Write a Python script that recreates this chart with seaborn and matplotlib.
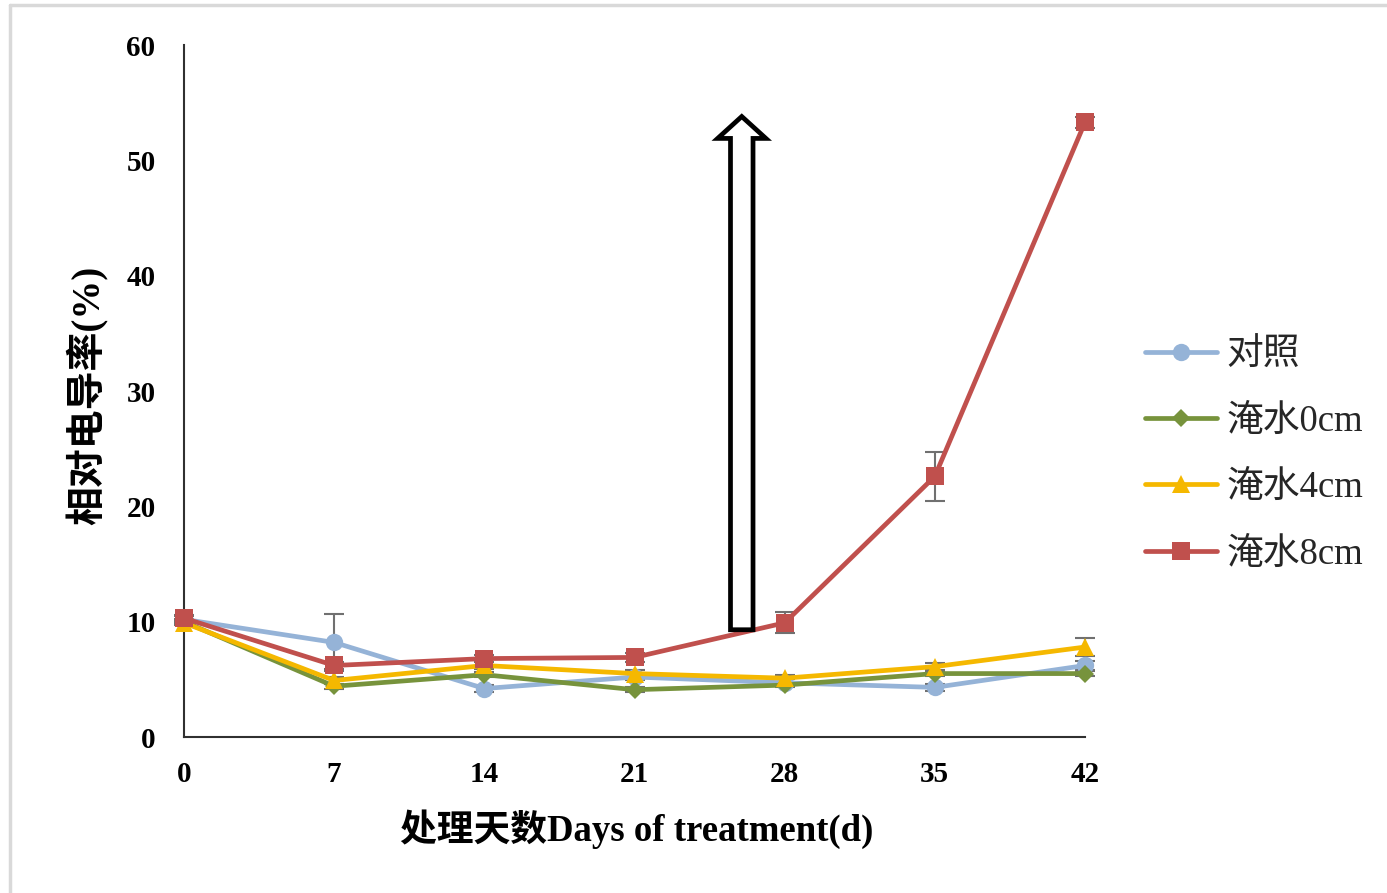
import matplotlib
matplotlib.use("Agg")
import matplotlib.pyplot as plt
import seaborn as sns
import pandas as pd
from matplotlib.patches import FancyArrow
from matplotlib.lines import Line2D

sns.set_theme(style="white")
plt.rcParams['font.family'] = ['Liberation Serif', 'Noto Sans CJK SC', 'DejaVu Sans']

days = [0, 7, 14, 21, 28, 35, 42]
series_names = ["对照", "淹水0cm", "淹水4cm", "淹水8cm"]
control = [10.2, 8.2, 4.2, 5.2, 4.7, 4.3, 6.2]
flood0 = [10.0, 4.4, 5.4, 4.1, 4.5, 5.5, 5.5]
flood4 = [9.9, 4.9, 6.2, 5.5, 5.1, 6.1, 7.8]
flood8 = [10.3, 6.2, 6.8, 6.9, 9.9, 22.6, 53.3]
control_err = [0.3, 2.5, 0.3, 0.3, 0.3, 0.3, 0.4]
flood0_err = [0.2, 0.2, 0.2, 0.2, 0.2, 0.2, 0.2]
flood4_err = [0.2, 0.3, 0.3, 0.3, 0.3, 0.3, 0.8]
flood8_err = [0.3, 0.3, 0.3, 0.4, 0.9, 2.1, 0.5]

yticks = [0, 10, 20, 30, 40, 50, 60]
xlabel = "处理天数Days of treatment(d)"
ylabel = "相对电导率(%)"

colors = ["#95B3D7", "#77933C", "#F5B800", "#C0504D"]
markers = ["o", "D", "^", "s"]
msizes = [12.5, 9, 12.5, 12.5]

values = [control, flood0, flood4, flood8]
errs = [control_err, flood0_err, flood4_err, flood8_err]

fig = plt.figure(figsize=(13.87, 8.93), dpi=100)
ax = fig.add_axes([184/1387, 1-737/893, (1085-184)/1387, (737-45)/893])

handles = []
for i, name in enumerate(series_names):
    df = pd.DataFrame({"day": days, "val": values[i]})
    ax.errorbar(days, values[i], yerr=errs[i], fmt="none", ecolor="#707070",
                elinewidth=1.5, capsize=7, capthick=1.5, zorder=2 + i * 0.1, clip_on=False)
    sns.lineplot(data=df, x="day", y="val", ax=ax, color=colors[i], marker=markers[i],
                 markersize=msizes[i], markeredgewidth=0, linewidth=3.4,
                 zorder=3 + i, clip_on=False, legend=False)
    handles.append(Line2D([0], [0], color=colors[i], marker=markers[i], markersize=msizes[i],
                          markeredgewidth=0, linewidth=3.4))

ax.set_xlim(0, 42)
ax.set_ylim(0, 60)
ax.set_xticks(days)
ax.set_yticks(yticks)
for s in ["top", "right"]:
    ax.spines[s].set_visible(False)
for s in ["left", "bottom"]:
    ax.spines[s].set_color("#303030")
    ax.spines[s].set_linewidth(1.5)
ax.tick_params(axis="both", direction="in", length=8, width=1.5, color="#303030",
               labelsize=21, labelcolor="black")
ax.tick_params(axis="y", pad=20.5)
ax.tick_params(axis="x", pad=17.5)
for lab in ax.get_xticklabels() + ax.get_yticklabels():
    lab.set_fontweight("bold")

ax.set_xlabel(xlabel, fontsize=26.5, fontweight="bold", color="black")
ax.set_ylabel(ylabel, fontsize=28, fontweight="bold", color="black")
ax.xaxis.set_label_coords(0.502, -0.104)
ax.yaxis.set_label_coords(-0.084, 0.494)

# hollow arrow annotation
arrow_x = 26.0
arrow_y0 = 9.3
arrow_y1 = 53.8
arr = FancyArrow(arrow_x, arrow_y0, 0, arrow_y1 - arrow_y0, width=1.05, head_width=2.25,
                 head_length=1.9, length_includes_head=True, facecolor="white",
                 edgecolor="black", linewidth=3.4, zorder=10, clip_on=False)
ax.add_patch(arr)

leg = fig.legend(handles, series_names, loc="center left",
                 bbox_to_anchor=(1145/1387, 1-455/893), frameon=False,
                 fontsize=26.5, handlelength=1.95, handletextpad=0.26,
                 labelspacing=0.86, borderpad=0, borderaxespad=0)

# light border around the figure
fig.add_artist(Line2D([10/1387, 10/1387], [0, 1-5/893], color="#d9d9d9", linewidth=2.5,
                      transform=fig.transFigure))
fig.add_artist(Line2D([10/1387, 1], [1-5/893, 1-5/893], color="#d9d9d9", linewidth=2.5,
                      transform=fig.transFigure))

fig.savefig("out.png", dpi=100, facecolor="white")
